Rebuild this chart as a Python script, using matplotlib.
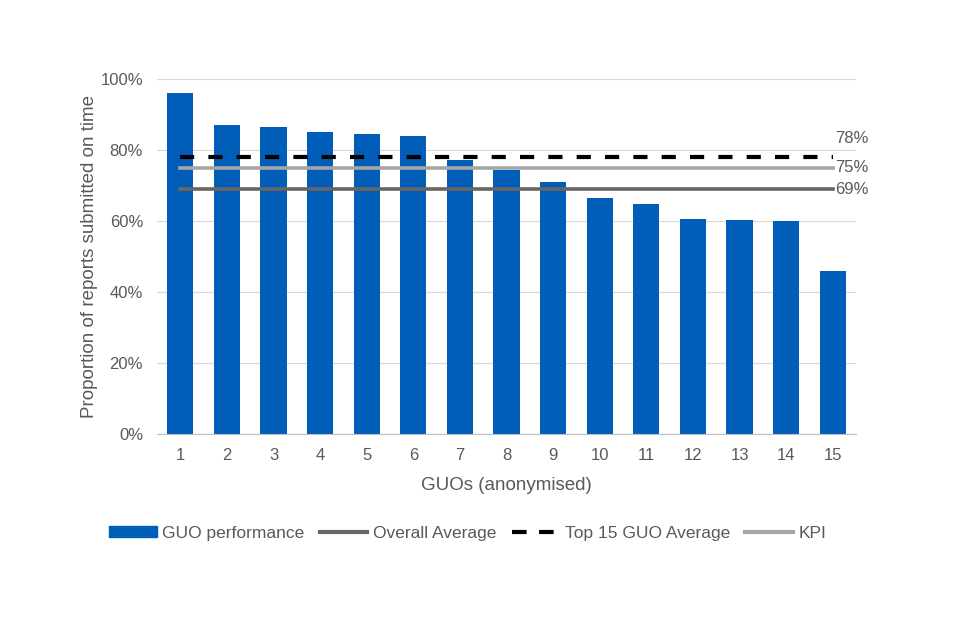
import numpy as np
import matplotlib.pyplot as plt
from matplotlib.patches import Patch
from matplotlib.lines import Line2D

plt.rcParams['font.family'] = ['Liberation Sans', 'DejaVu Sans']

guos = list(range(1, 16))
performance = [0.96, 0.87, 0.866, 0.85, 0.845, 0.84, 0.772, 0.745, 0.71,
               0.665, 0.648, 0.606, 0.603, 0.599, 0.46]
overall_avg = 0.69
top15_avg = 0.78
kpi = 0.75

blue = '#005EB8'
dark_grey = '#6B6561'
light_grey = '#A6A6A6'
text_col = '#595959'

fig = plt.figure(figsize=(9.6, 6.4), dpi=100)
ax = fig.add_axes([0.1635, 0.3219, 0.7282, 0.5547])

ax.bar(guos, performance, width=0.56, color=blue, zorder=2)

x = np.array([guos[0], guos[-1]])
ax.plot(x, [overall_avg] * 2, color=dark_grey, lw=2.6, zorder=3)
ax.plot(x, [kpi] * 2, color=light_grey, lw=2.6, zorder=3)
ax.plot(x, [top15_avg] * 2, color='black', lw=3, dashes=(3.4, 3.4), zorder=4)

ax.text(guos[-1] + 0.05, top15_avg + 0.053, '78%', color=text_col, fontsize=12, va='center')
ax.text(guos[-1] + 0.05, kpi, '75%', color=text_col, fontsize=12, va='center')
ax.text(guos[-1] + 0.05, overall_avg, '69%', color=text_col, fontsize=12, va='center')

ax.set_xlim(0.5, 15.5)
ax.set_ylim(0, 1)
ax.set_yticks(np.arange(0, 1.01, 0.2))
ax.set_yticklabels(['{:.0f}%'.format(v * 100) for v in np.arange(0, 1.01, 0.2)])
ax.set_xticks(guos)
ax.tick_params(axis='both', length=0, colors=text_col, labelsize=12, pad=10)
ax.grid(axis='y', color='#D9D9D9', lw=0.8, zorder=0)
ax.set_axisbelow(True)
for s in ['top', 'right', 'left']:
    ax.spines[s].set_visible(False)
ax.spines['bottom'].set_color('#BFBFBF')

ax.set_ylabel('Proportion of reports submitted on time', color=text_col, fontsize=13.5, labelpad=2)
ax.set_xlabel('GUOs (anonymised)', color=text_col, fontsize=13.5, labelpad=10)

handles = [
    Patch(color=blue, label='GUO performance'),
    Line2D([], [], color=dark_grey, lw=3, label='Overall Average'),
    Line2D([], [], color='black', lw=3, dashes=(3.5, 3.0), label='Top 15 GUO Average'),
    Line2D([], [], color=light_grey, lw=3, label='KPI'),
]
fig.legend(handles=handles, loc='center', bbox_to_anchor=(0.487, 0.167), ncol=4,
           frameon=False, fontsize=12.5, handlelength=2.75, handleheight=0.6,
           columnspacing=0.9, handletextpad=0.3, labelcolor=text_col)

fig.savefig('out.png', dpi=100)
